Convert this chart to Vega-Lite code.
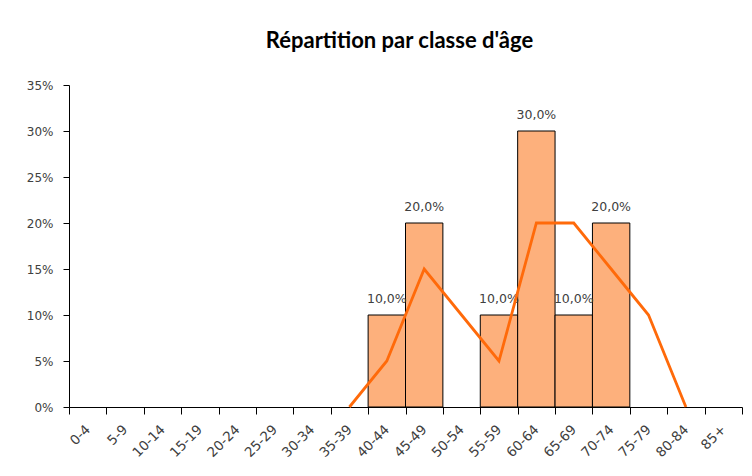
{
  "$schema": "https://vega.github.io/schema/vega-lite/v6.json",
  "autosize": {"type": "none"},
  "padding": {"left": 69, "top": 85, "right": 10, "bottom": 69},
  "width": 673,
  "height": 322,
  "background": "white",
  "title": {
    "text": "Répartition par classe d'âge",
    "font": "Lato",
    "fontSize": 22,
    "fontWeight": "bold",
    "color": "#000000",
    "anchor": "middle",
    "frame": "group",
    "baseline": "alphabetic",
    "offset": 9,
    "dx": -6
  },
  "config": {
    "locale": {
      "number": {"decimal": ",", "thousands": " ", "grouping": [3], "currency": ["", " €"]}
    },
    "view": {"stroke": null},
    "axis": {
      "labelFont": "DejaVu Sans",
      "labelFontSize": 12,
      "labelColor": "#404040",
      "domainColor": "#000000",
      "tickColor": "#000000",
      "grid": false,
      "title": null
    }
  },
  "data": {
    "values": [
      {"classe": "0-4", "part": 0, "moyenne": null},
      {"classe": "5-9", "part": 0, "moyenne": null},
      {"classe": "10-14", "part": 0, "moyenne": null},
      {"classe": "15-19", "part": 0, "moyenne": null},
      {"classe": "20-24", "part": 0, "moyenne": null},
      {"classe": "25-29", "part": 0, "moyenne": null},
      {"classe": "30-34", "part": 0, "moyenne": null},
      {"classe": "35-39", "part": 0, "moyenne": 0},
      {"classe": "40-44", "part": 0.10, "moyenne": 0.05},
      {"classe": "45-49", "part": 0.20, "moyenne": 0.15},
      {"classe": "50-54", "part": 0, "moyenne": 0.10},
      {"classe": "55-59", "part": 0.10, "moyenne": 0.05},
      {"classe": "60-64", "part": 0.30, "moyenne": 0.20},
      {"classe": "65-69", "part": 0.10, "moyenne": 0.20},
      {"classe": "70-74", "part": 0.20, "moyenne": 0.15},
      {"classe": "75-79", "part": 0, "moyenne": 0.10},
      {"classe": "80-84", "part": 0, "moyenne": 0},
      {"classe": "85+", "part": 0, "moyenne": null}
    ]
  },
  "encoding": {
    "x": {
      "field": "classe",
      "type": "nominal",
      "sort": null,
      "scale": {
        "domain": ["0-4", "5-9", "10-14", "15-19", "20-24", "25-29", "30-34", "35-39", "40-44", "45-49", "50-54", "55-59", "60-64", "65-69", "70-74", "75-79", "80-84", "85+"],
        "paddingInner": 0,
        "paddingOuter": 0
      },
      "axis": {
        "labelAngle": -45,
        "labelAlign": "right",
        "labelBaseline": "middle",
        "labelPadding": 13,
        "labelFontSize": 13.5,
        "tickBand": "extent",
        "tickSize": 7
      }
    }
  },
  "layer": [
    {
      "transform": [{"filter": "datum.part > 0"}],
      "mark": {"type": "bar", "fill": "#FDB07C", "stroke": "#000000", "strokeWidth": 1},
      "encoding": {
        "y": {
          "field": "part",
          "type": "quantitative",
          "scale": {"domain": [0, 0.35], "nice": false},
          "axis": {
            "values": [0, 0.05, 0.1, 0.15, 0.2, 0.25, 0.3, 0.35],
            "format": ".0%",
            "tickSize": 6,
            "labelPadding": 10
          }
        }
      }
    },
    {
      "transform": [{"filter": "datum.part > 0"}],
      "mark": {"type": "text", "baseline": "alphabetic", "dy": -12, "font": "DejaVu Sans", "fontSize": 12.5, "color": "#404040"},
      "encoding": {
        "y": {"field": "part", "type": "quantitative"},
        "text": {"field": "part", "type": "quantitative", "format": ".1%"}
      }
    },
    {
      "transform": [{"filter": "datum.moyenne != null"}],
      "mark": {"type": "line", "color": "#FF6A0A", "strokeWidth": 2.8},
      "encoding": {
        "y": {"field": "moyenne", "type": "quantitative"}
      }
    }
  ]
}
